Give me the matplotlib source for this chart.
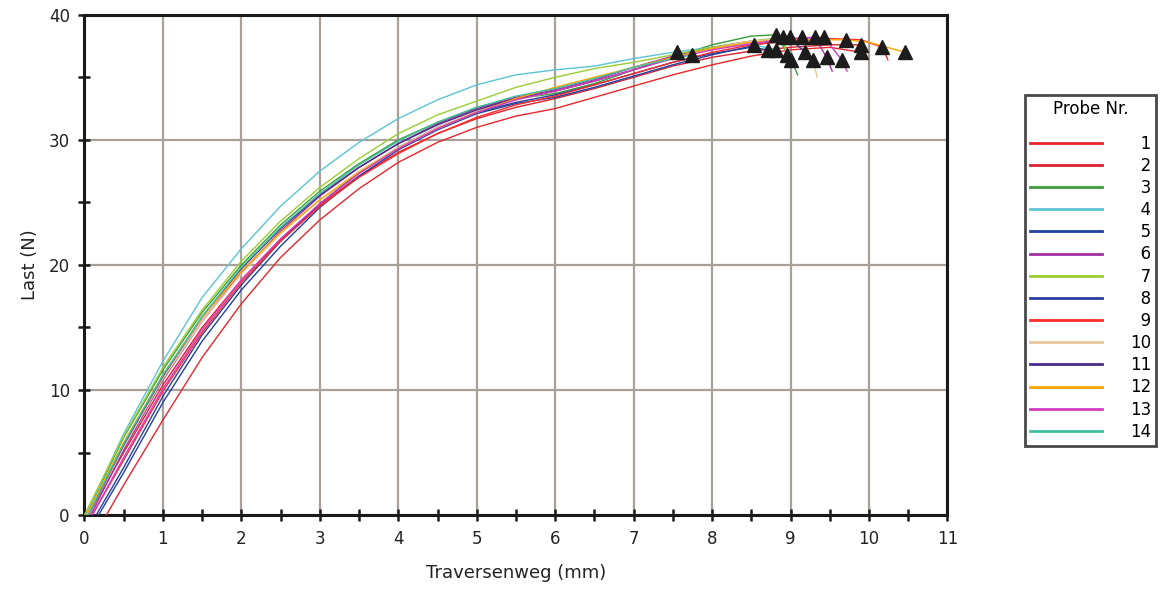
import numpy as np
import matplotlib
matplotlib.use('Agg')
import matplotlib.pyplot as plt
from matplotlib.ticker import MultipleLocator

# Kraft-Weg-Kurven
grid_x = [0.5, 1, 1.5, 2, 2.5, 3, 3.5, 4, 4.5, 5, 5.5, 6, 6.5, 7, 7.5, 8, 8.5]

probe_nr = [str(i) for i in range(1, 15)]
farben = ['#e8262b', '#d9232e', '#3a9f3a', '#5bc4d4', '#2141a5', '#a02fa0', '#9acd32',
          '#2a3f9a', '#ff2a2a', '#e6c79a', '#4a2a8c', '#ffa500', '#d43bc4', '#3fbf9f']

start_x = [0.28, 0.05, 0.02, 0.02, 0.18, 0.08, 0.0, 0.15, 0.10, 0.05, 0.05, 0.03, 0.10, 0.05]

last_y = [
    [2.4, 7.6, 12.6, 16.9, 20.6, 23.6, 26.1, 28.2, 29.8, 31.0, 31.9, 32.5, 33.4, 34.3, 35.2, 36.0, 36.7],
    [5.0, 10.4, 15.0, 18.8, 22.0, 24.8, 27.1, 29.0, 30.5, 31.7, 32.6, 33.3, 34.1, 35.0, 35.9, 36.6, 37.1],
    [6.2, 11.6, 16.2, 20.0, 23.2, 25.9, 28.1, 30.0, 31.4, 32.6, 33.3, 33.7, 34.5, 35.6, 36.6, 37.6, 38.3],
    [6.5, 12.3, 17.4, 21.3, 24.7, 27.5, 29.8, 31.7, 33.2, 34.4, 35.2, 35.6, 35.9, 36.5, 37.0, 37.4, 37.6],
    [3.4, 9.0, 13.9, 18.0, 21.5, 24.6, 27.1, 29.2, 30.8, 32.1, 32.9, 33.4, 34.2, 35.1, 36.0, 36.8, 37.5],
    [5.2, 10.8, 15.5, 19.4, 22.7, 25.5, 27.8, 29.7, 31.3, 32.5, 33.4, 34.0, 34.8, 35.8, 36.7, 37.4, 37.9],
    [6.3, 11.8, 16.4, 20.3, 23.5, 26.2, 28.5, 30.5, 32.0, 33.1, 34.2, 35.0, 35.7, 36.2, 36.8, 37.4, 37.9],
    [3.8, 9.5, 14.4, 18.4, 21.9, 24.9, 27.4, 29.4, 31.0, 32.2, 33.0, 33.6, 34.4, 35.3, 36.2, 36.9, 37.4],
    [4.4, 9.9, 14.6, 18.6, 21.9, 24.7, 27.0, 28.9, 30.5, 31.8, 32.8, 33.5, 34.4, 35.3, 36.2, 37.0, 37.6],
    [5.4, 10.9, 15.5, 19.3, 22.5, 25.2, 27.5, 29.4, 31.0, 32.3, 33.2, 33.9, 34.7, 35.6, 36.5, 37.3, 37.9],
    [5.6, 11.1, 15.8, 19.7, 22.9, 25.6, 27.8, 29.7, 31.2, 32.4, 33.3, 33.9, 34.7, 35.6, 36.6],
    [5.8, 11.2, 15.8, 19.5, 22.6, 25.2, 27.4, 29.3, 30.9, 32.2, 33.3, 34.2, 35.0, 35.8, 36.6, 37.3, 37.8],
    [4.6, 10.1, 14.8, 18.8, 22.1, 24.9, 27.3, 29.3, 30.9, 32.2, 33.2, 33.9, 34.7, 35.6, 36.5, 37.2, 37.7],
    [5.7, 11.2, 15.9, 19.8, 23.0, 25.7, 28.0, 29.9, 31.4, 32.6, 33.5, 34.1, 34.9, 35.8, 36.5],
]

# Kurvenende (nach 8.5 mm bzw. Abbruch)
ende_x = [
    [9.0, 9.5, 9.9], [9.0, 9.5, 9.9], [8.82, 9.01, 9.09], [8.53, 8.82],
    [8.99, 9.18], [9.0, 9.31, 9.46, 9.53], [8.90, 8.95], [8.71],
    [9.0, 9.5, 9.9, 10.17, 10.24], [9.15, 9.28, 9.34], [7.55],
    [9.0, 9.71, 10.0, 10.46], [9.0, 9.43, 9.65, 9.72], [7.75],
]
ende_y = [
    [37.2, 37.4, 37.0], [37.4, 37.6, 37.6], [38.4, 36.4, 35.2], [37.6, 37.2],
    [38.2, 37.0], [38.1, 38.2, 36.6, 35.5], [38.2, 36.8], [37.2],
    [37.9, 38.1, 38.0, 37.4, 36.4], [38.2, 36.4, 35.0], [37.0],
    [38.0, 38.0, 37.8, 37.0], [38.1, 38.2, 36.4, 35.5], [36.8],
]

# Markierungen (Dreiecke): Fmax und Bruch
mark_x = [[9.9], [9.9], [8.82, 9.01], [8.53, 8.82], [8.99, 9.18], [9.31, 9.46], [8.90, 8.95],
          [8.71], [10.17], [9.15, 9.28], [7.55], [9.71, 10.46], [9.43, 9.65], [7.75]]
mark_y = [[37.0], [37.6], [38.4, 36.4], [37.6, 37.2], [38.2, 37.0], [38.2, 36.6], [38.2, 36.8],
          [37.2], [37.4], [38.2, 36.4], [37.0], [38.0, 37.0], [38.2, 36.4], [36.8]]

fig = plt.figure(figsize=(11.6, 5.92), dpi=100)
ax = fig.add_axes([0.0728, 0.130, 0.744, 0.845])

linien = []
for i in range(14):
    n = len(last_y[i])
    x = [start_x[i]] + grid_x[:n] + ende_x[i]
    y = [0] + last_y[i] + ende_y[i]
    l, = ax.plot(x, y, color=farben[i], lw=1.0, label=probe_nr[i], zorder=3)
    linien.append(l)

for i in range(14):
    ax.plot(mark_x[i], mark_y[i], linestyle='none', marker='^', markersize=10.5,
            color='#1c1c1c', zorder=5)

ax.set_xlim(0, 11)
ax.set_ylim(0, 40)
ax.xaxis.set_major_locator(MultipleLocator(1))
ax.xaxis.set_minor_locator(MultipleLocator(0.5))
ax.yaxis.set_major_locator(MultipleLocator(10))
ax.yaxis.set_minor_locator(MultipleLocator(5))
ax.grid(True, which='major', color='#a8a199', lw=1.6, zorder=1)
ax.set_axisbelow(True)
for s in ax.spines.values():
    s.set_linewidth(2.2)
    s.set_color('#1a1a1a')
ax.tick_params(which='both', direction='inout', width=1.8, color='#1a1a1a',
               labelsize=12, labelcolor='#222222')
ax.tick_params(which='major', length=9, pad=6)
ax.tick_params(which='minor', length=8)

ax.set_xlabel('Traversenweg (mm)', fontsize=13, color='#222222', labelpad=12)
ax.set_ylabel('Last (N)', fontsize=13, color='#222222', labelpad=7)

labels = [('\u2007' + p) if len(p) == 1 else p for p in probe_nr]
leg = fig.legend(linien, labels, title='Probe Nr.\n', loc='upper left',
                 bbox_to_anchor=(0.8836, 0.8395), fontsize=12, title_fontsize=12,
                 frameon=True, fancybox=False, edgecolor='#1a1a1a',
                 handlelength=4.3, handletextpad=1.7, labelspacing=0.25,
                 borderpad=0.3, borderaxespad=0)
leg.get_frame().set_linewidth(2)
leg.get_title().set_linespacing(0.6)
for l in leg.get_lines():
    l.set_linewidth(2.0)

fig.savefig('out.png', dpi=100)
